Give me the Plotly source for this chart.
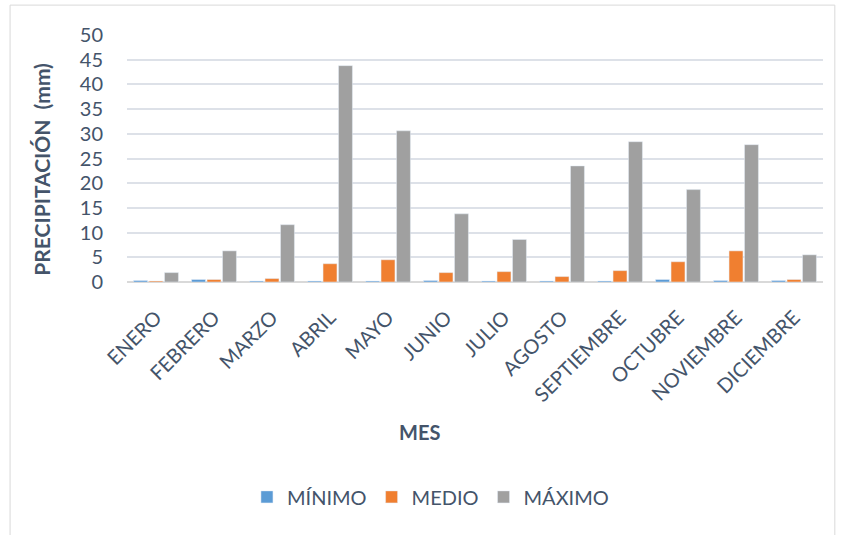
import plotly.graph_objects as go

# Monthly precipitation (mm)
meses = ["ENERO", "FEBRERO", "MARZO", "ABRIL", "MAYO", "JUNIO", "JULIO",
         "AGOSTO", "SEPTIEMBRE", "OCTUBRE", "NOVIEMBRE", "DICIEMBRE"]
minimo = [0.3, 0.5, 0.2, 0.2, 0.2, 0.3, 0.2, 0.2, 0.2, 0.5, 0.3, 0.3]
medio = [0.2, 0.5, 0.7, 3.7, 4.5, 1.9, 2.1, 1.1, 2.3, 4.1, 6.3, 0.5]
maximo = [1.9, 6.3, 11.6, 43.8, 30.6, 13.8, 8.6, 23.5, 28.4, 18.7, 27.8, 5.5]
y_ticks = list(range(0, 51, 5))

text_color = "#44546A"
font_family = "Lato, Calibri, sans-serif"

fig = go.Figure()
fig.add_trace(go.Bar(name="MÍNIMO", x=meses, y=minimo, marker_color="#5B9BD5"))
fig.add_trace(go.Bar(name="MEDIO", x=meses, y=medio, marker_color="#F07F30"))
fig.add_trace(go.Bar(name="MÁXIMO", x=meses, y=maximo, marker_color="#A0A0A0"))

fig.update_layout(
    width=841, height=535,
    margin=dict(l=127, r=18, t=35, b=253),
    paper_bgcolor="white", plot_bgcolor="white",
    barmode="group", bargap=0.2, bargroupgap=0.1,
    font=dict(family=font_family, color=text_color),
    showlegend=True,
    legend=dict(orientation="h", x=0.436, xanchor="center", y=-0.87, yanchor="middle",
                font=dict(size=20, color=text_color), itemwidth=30,
                traceorder="normal"),
    xaxis=dict(tickangle=-45, tickfont=dict(size=20, color=text_color),
               showgrid=False, showline=True, linecolor="#D9D9D9", linewidth=1,
               ticks="outside", ticklen=15, tickcolor="rgba(0,0,0,0)"),
    yaxis=dict(range=[0, 50], tickvals=y_ticks, tickfont=dict(size=20, color=text_color),
               showgrid=True, gridcolor="#DDE1E8", gridwidth=1.5,
               zeroline=True, zerolinecolor="#D9D9D9", zerolinewidth=1.5,
               ticks="outside", ticklen=19, tickcolor="rgba(0,0,0,0)"),
    shapes=[dict(type="rect", xref="paper", yref="paper",
                 x0=-0.168, x1=1.017, y0=-1.03, y1=1.121,
                 line=dict(color="#D9D9D9", width=1), layer="below")],
    annotations=[
        dict(text="<b>MES</b>", xref="paper", yref="paper", x=0.42, y=-0.607,
             xanchor="center", yanchor="middle",
             showarrow=False, font=dict(size=20, color=text_color)),
        dict(text="<b>PRECIPITACIÓN  (mm)</b>", xref="paper", yref="paper",
             x=-0.122, y=0.455, xanchor="center", yanchor="middle",
             textangle=-90, showarrow=False,
             font=dict(size=21, color=text_color)),
    ],
)

fig.write_html("out.html")
